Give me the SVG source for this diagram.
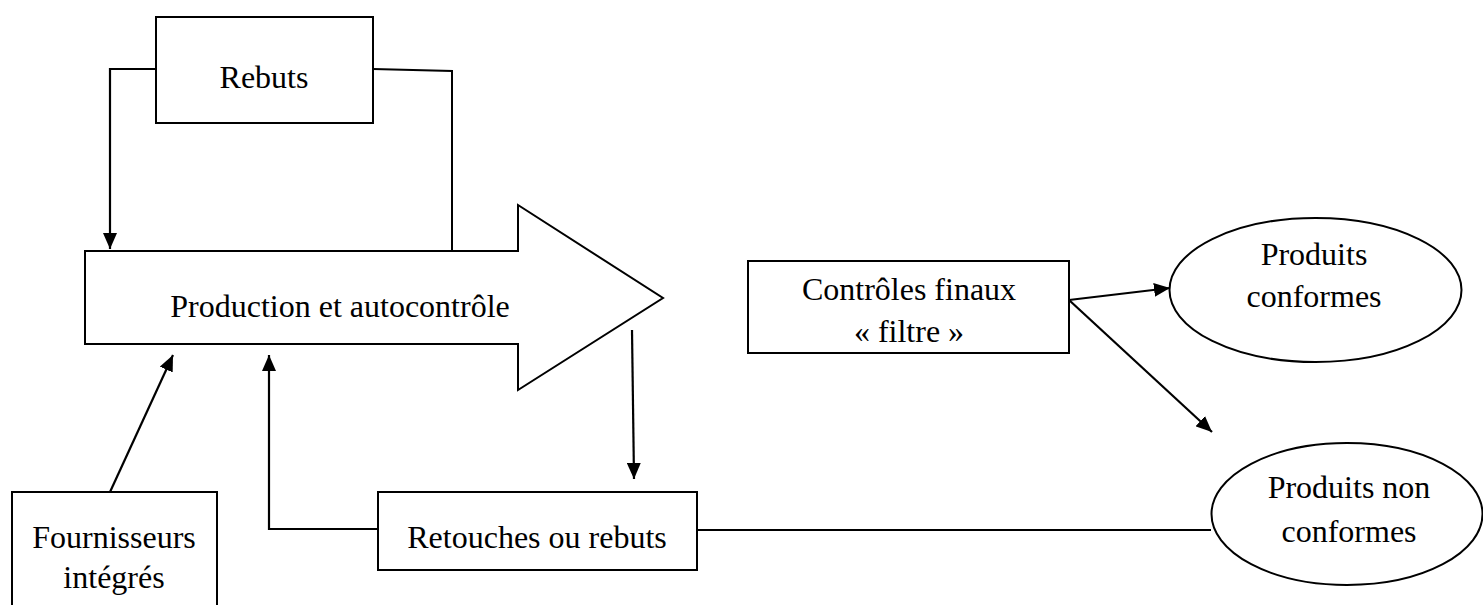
<svg xmlns="http://www.w3.org/2000/svg" width="1483" height="605" viewBox="0 0 1483 605">
<style>
.box{fill:#fff;stroke:#000;stroke-width:2}
.ln{fill:none;stroke:#000;stroke-width:2}
.ar{fill:none;stroke:#000;stroke-width:2.2;marker-end:url(#ah)}
text{font-family:"Liberation Serif","Times New Roman",serif;font-size:32px;fill:#000;text-anchor:middle}
</style>
<defs>
<marker id="ah" viewBox="0 0 16 14" refX="16" refY="7" markerWidth="16" markerHeight="14" markerUnits="userSpaceOnUse" orient="auto">
<path d="M0,0 L16,7 L0,14 Z" fill="#000"/>
</marker>
</defs>
<rect width="1483" height="605" fill="#fff"/>
<g id="connectors">
<polyline class="ar" points="156,69 110,69 110,249"/>
<polyline class="ln" points="373,69 452,71 452,251"/>
<line class="ar" x1="632" y1="330" x2="634" y2="479"/>
<polyline class="ar" points="378,529 269,529 269,355"/>
<line class="ar" x1="110" y1="492" x2="173" y2="355"/>
<line class="ar" x1="1069" y1="300" x2="1170" y2="288"/>
<line class="ar" x1="1069" y1="300" x2="1212" y2="432"/>
<line class="ln" x1="697" y1="530" x2="1211" y2="530"/>
</g>
<g id="rebuts">
<rect class="box" x="156" y="17" width="217" height="106"/>
<text x="264" y="88">Rebuts</text>
</g>
<g id="production">
<polygon class="box" points="85,251 518,251 518,205 663,298 518,390 518,344 85,344"/>
<text x="340" y="317">Production et autocontrôle</text>
</g>
<g id="controles">
<rect class="box" x="748" y="261" width="321" height="92"/>
<text x="909" y="300">Contrôles finaux</text>
<text x="909" y="342">« filtre »</text>
</g>
<g id="conformes">
<ellipse class="box" cx="1315.5" cy="290" rx="146" ry="72"/>
<text x="1314" y="265">Produits</text>
<text x="1314" y="307">conformes</text>
</g>
<g id="nonconformes">
<ellipse class="box" cx="1347" cy="514" rx="135.5" ry="71"/>
<text x="1349" y="498">Produits non</text>
<text x="1349" y="542">conformes</text>
</g>
<g id="retouches">
<rect class="box" x="378" y="492" width="319" height="78"/>
<text x="537" y="548">Retouches ou rebuts</text>
</g>
<g id="fournisseurs">
<rect class="box" x="12" y="492" width="205" height="120"/>
<text x="114" y="548">Fournisseurs</text>
<text x="114" y="588">intégrés</text>
</g>
</svg>
